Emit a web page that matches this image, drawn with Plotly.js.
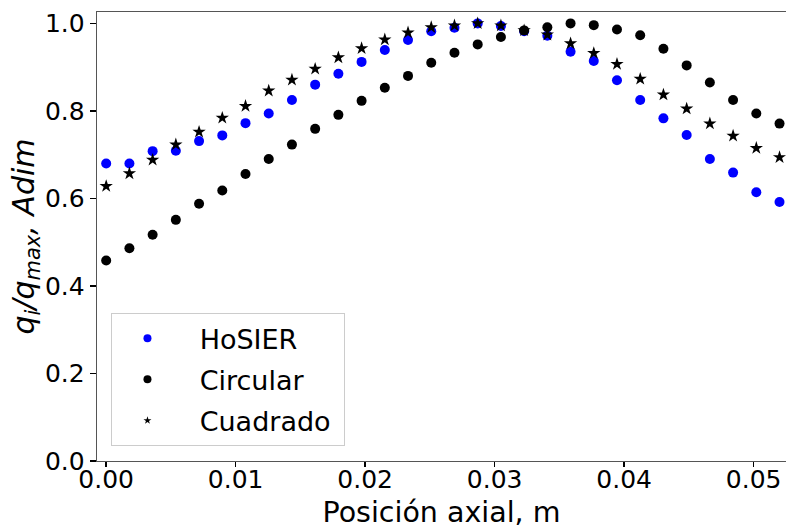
<!DOCTYPE html>
<html>
<head>
<meta charset="utf-8">
<script src="https://cdn.plot.ly/plotly-3.0.1.min.js"></script>
<style>
  html, body { margin: 0; padding: 0; background: #ffffff; }
  #chart { width: 786px; height: 529px; }
</style>
</head>
<body>
<div id="chart"></div>
<script>
// Axial positions (m)
const posicion = [0.000000, 0.001793, 0.003586, 0.005379, 0.007172, 0.008966, 0.010759, 0.012552,
  0.014345, 0.016138, 0.017931, 0.019724, 0.021517, 0.023310, 0.025103, 0.026897, 0.028690,
  0.030483, 0.032276, 0.034069, 0.035862, 0.037655, 0.039448, 0.041241, 0.043034, 0.044828,
  0.046621, 0.048414, 0.050207, 0.052000];

// q_i / q_max values
const hosier = [0.680, 0.680, 0.708, 0.709, 0.731, 0.744, 0.772, 0.794, 0.825, 0.860,
  0.885, 0.912, 0.939, 0.962, 0.982, 0.990, 1.000, 0.994, 0.982, 0.972,
  0.935, 0.914, 0.870, 0.825, 0.783, 0.745, 0.690, 0.659, 0.614, 0.592];

const circular = [0.458, 0.486, 0.517, 0.551, 0.588, 0.618, 0.656, 0.690, 0.723, 0.759,
  0.791, 0.823, 0.853, 0.880, 0.910, 0.933, 0.952, 0.969, 0.984, 0.991,
  1.000, 0.996, 0.986, 0.973, 0.942, 0.904, 0.865, 0.825, 0.794, 0.771];

const cuadrado = [0.628, 0.657, 0.688, 0.723, 0.752, 0.784, 0.811, 0.846, 0.871, 0.896,
  0.922, 0.943, 0.963, 0.979, 0.991, 0.995, 1.000, 0.995, 0.984, 0.974,
  0.954, 0.932, 0.907, 0.873, 0.837, 0.805, 0.771, 0.743, 0.715, 0.694];

const seriesNames = ["HoSIER", "Circular", "Cuadrado"];
const xTickVals = [0.00, 0.01, 0.02, 0.03, 0.04, 0.05];
const yTickVals = [0.0, 0.2, 0.4, 0.6, 0.8, 1.0];

const FONT = "DejaVu Sans, sans-serif";
const PAD = "\u00a0\u00a0";

const traces = [
  { x: posicion, y: hosier, mode: "markers", type: "scatter", name: seriesNames[0],
    marker: { color: "#0000ff", size: 10, symbol: "circle" }, showlegend: false },
  { x: posicion, y: circular, mode: "markers", type: "scatter", name: seriesNames[1],
    marker: { color: "#000000", size: 10, symbol: "circle" }, showlegend: false },
  { x: posicion, y: cuadrado, mode: "markers", type: "scatter", name: seriesNames[2],
    marker: { color: "#000000", size: 10, symbol: "star" }, showlegend: false },
  // legend entries (smaller markers, as in the reference legend)
  { x: [null], y: [null], mode: "markers", type: "scatter", name: PAD + seriesNames[0], legendgroup: "a",
    marker: { color: "#0000ff", size: 8, symbol: "circle" } },
  { x: [null], y: [null], mode: "markers", type: "scatter", name: PAD + seriesNames[1], legendgroup: "b",
    marker: { color: "#000000", size: 8, symbol: "circle" } },
  { x: [null], y: [null], mode: "markers", type: "scatter", name: PAD + seriesNames[2] + "\u00a0", legendgroup: "c",
    marker: { color: "#000000", size: 6, symbol: "star" } }
];

const layout = {
  width: 786, height: 529,
  margin: { l: 97, r: 0, t: 12, b: 68 },
  paper_bgcolor: "#ffffff", plot_bgcolor: "#ffffff",
  font: { family: FONT, color: "#000000", size: 25 },
  showlegend: true,
  legend: {
    x: 0.021, y: 0.033, xanchor: "left", yanchor: "bottom",
    bgcolor: "rgba(255,255,255,0.8)", bordercolor: "#cccccc", borderwidth: 1,
    font: { family: FONT, size: 27, color: "#000000" },
    itemwidth: 60, tracegroupgap: 3
  },
  xaxis: {
    range: [-0.00071, 0.0525],
    tickvals: xTickVals, tickformat: ".2f",
    ticks: "outside", ticklen: 5, tickwidth: 1.5, tickcolor: "#000000",
    ticklabelstandoff: -9,
    showline: true, mirror: true, linecolor: "#555555", linewidth: 1.3,
    showgrid: false, zeroline: false,
    tickfont: { family: FONT, size: 25 },
    title: { text: "Posición axial, m", font: { family: FONT, size: 28.5 }, standoff: 14 }
  },
  yaxis: {
    range: [0, 1.026],
    tickvals: yTickVals, tickformat: ".1f",
    ticks: "outside", ticklen: 6, tickwidth: 1.5, tickcolor: "#000000",
    showline: true, mirror: true, linecolor: "#555555", linewidth: 1.3,
    showgrid: false, zeroline: false,
    tickfont: { family: FONT, size: 25 },
    title: { text: "<i>q<sub>i</sub>/q<sub>max</sub>, Adim</i>", font: { family: FONT, size: 30 }, standoff: 0 }
  }
};

Plotly.newPlot("chart", traces, layout, { displayModeBar: false, staticPlot: true });
</script>
</body>
</html>
